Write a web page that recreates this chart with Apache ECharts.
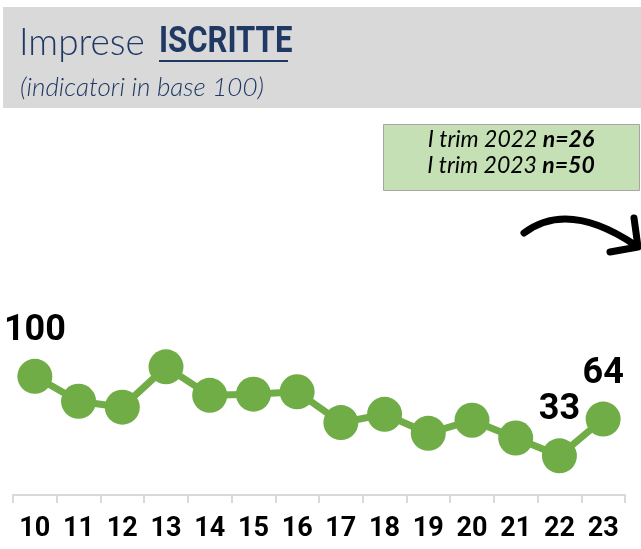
<!DOCTYPE html>
<html>
<head>
<meta charset="utf-8">
<script src="https://cdn.jsdelivr.net/npm/echarts@6/dist/echarts.min.js"></script>
<style>
  html, body { margin: 0; padding: 0; background: #fff; }
  #chart { width: 641px; height: 549px; }
</style>
</head>
<body>
<div id="chart"></div>
<script>
// trimestri (asse x)
const categories = ['10', '11', '12', '13', '14', '15', '16', '17', '18', '19', '20', '21', '22', '23'];
// indicatori in base 100
const values = [100, 79, 74, 108, 84, 85, 87, 61, 68, 52, 63, 48, 33, 64];
// punti con etichetta visibile
const labelledIdx = [0, 12, 13];

const GREEN = '#70ad47';
const NAVY = '#1f3864';

const chart = echarts.init(document.getElementById('chart'));

const seriesData = values.map((v, i) => {
  const item = { value: v };
  if (labelledIdx.indexOf(i) > -1) {
    item.label = { show: true };
  }
  return item;
});

chart.setOption({
  animation: false,
  grid: { left: 13, right: 16, top: 317, bottom: 54 },
  xAxis: {
    type: 'category',
    data: categories,
    boundaryGap: true,
    axisLine: { lineStyle: { color: '#d9d9d9', width: 2 } },
    axisTick: { show: true, length: 8, lineStyle: { color: '#d9d9d9', width: 2 } },
    axisLabel: {
      margin: 21,
      color: '#000',
      fontFamily: 'Roboto',
      fontWeight: 'bold',
      fontSize: 27
    }
  },
  yAxis: {
    type: 'value',
    min: 0,
    max: 150,
    show: false
  },
  series: [
    {
      type: 'line',
      data: seriesData,
      symbol: 'circle',
      symbolSize: 35,
      lineStyle: { color: GREEN, width: 7 },
      itemStyle: { color: GREEN },
      label: {
        show: false,
        position: 'top',
        distance: 10,
        color: '#000',
        fontFamily: 'Roboto',
        fontWeight: 'bold',
        fontSize: 36
      }
    }
  ],
  graphic: [
    // box titolo
    {
      type: 'rect',
      shape: { x: 3, y: 7, width: 638, height: 101 },
      style: { fill: '#d9d9d9' }
    },
    {
      type: 'text',
      x: 19, y: 43,
      style: {
        text: 'Imprese',
        fill: NAVY,
        font: '300 37px Lato',
        verticalAlign: 'middle'
      }
    },
    {
      type: 'text',
      x: 159, y: 43,
      scaleX: 0.84,
      style: {
        text: 'ISCRITTE',
        fill: NAVY,
        font: 'bold 37px Roboto',
        verticalAlign: 'middle'
      }
    },
    {
      type: 'line',
      shape: { x1: 159, y1: 61, x2: 288, y2: 61 },
      style: { stroke: NAVY, lineWidth: 2 }
    },
    {
      type: 'text',
      x: 20, y: 88,
      style: {
        text: '(indicatori in base 100)',
        fill: NAVY,
        font: 'italic 300 26px Lato',
        verticalAlign: 'middle'
      }
    },
    // box numerosità
    {
      type: 'rect',
      shape: { x: 383.5, y: 124.5, width: 256, height: 66 },
      style: { fill: '#c5e0b4', stroke: '#a6a6a6', lineWidth: 1 }
    },
    {
      type: 'text',
      x: 511, y: 140,
      style: {
        text: '{a|I trim 2022 }{b|n=26}',
        align: 'center',
        verticalAlign: 'middle',
        rich: {
          a: { font: 'italic 23px Lato', fill: '#000' },
          b: { font: 'italic bold 23px Lato', fill: '#000' }
        }
      }
    },
    {
      type: 'text',
      x: 511, y: 166,
      style: {
        text: '{a|I trim 2023 }{b|n=50}',
        align: 'center',
        verticalAlign: 'middle',
        rich: {
          a: { font: 'italic 23px Lato', fill: '#000' },
          b: { font: 'italic bold 23px Lato', fill: '#000' }
        }
      }
    },
    // freccia
    {
      type: 'bezierCurve',
      shape: { x1: 524, y1: 233, cpx1: 568, cpy1: 200, x2: 635, y2: 245 },
      style: { stroke: '#000', lineWidth: 7, lineCap: 'round', fill: null }
    },
    {
      type: 'polyline',
      shape: { points: [[634, 218], [638, 247], [610, 252]] },
      style: { stroke: '#000', lineWidth: 7, lineCap: 'round', lineJoin: 'round', fill: null }
    }
  ]
});
</script>
</body>
</html>
